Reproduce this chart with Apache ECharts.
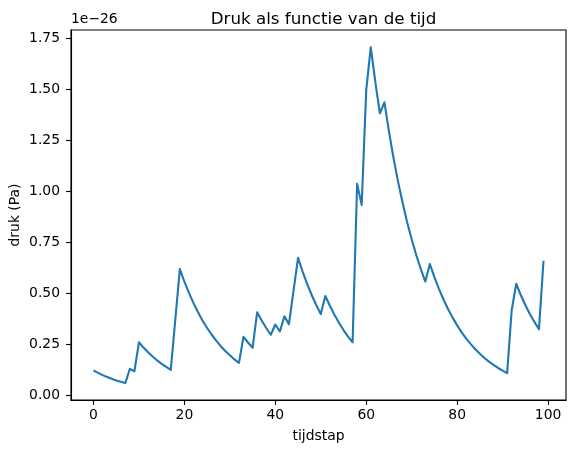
<!DOCTYPE html>
<html>
<head>
<meta charset="utf-8">
<script src="https://cdn.jsdelivr.net/npm/echarts@6/dist/echarts.min.js"></script>
<style>html,body{margin:0;padding:0;background:#fff}#c{width:576px;height:453px}</style>
</head>
<body>
<div id="c"></div>
<script>
// Druk (Pa), in eenheden van 1e-26, per tijdstap 0..99
var druk = [
  0.120, 0.108, 0.097, 0.088, 0.079, 0.071, 0.064, 0.058, 0.128, 0.116,
  0.258, 0.232, 0.209, 0.188, 0.169, 0.152, 0.137, 0.123, 0.370, 0.617,
  0.555, 0.500, 0.450, 0.405, 0.364, 0.328, 0.295, 0.266, 0.239, 0.215,
  0.194, 0.174, 0.157, 0.285, 0.257, 0.231, 0.405, 0.365, 0.328, 0.295,
  0.345, 0.311, 0.385, 0.347, 0.510, 0.672, 0.605, 0.544, 0.490, 0.441,
  0.397, 0.485, 0.437, 0.393, 0.354, 0.318, 0.286, 0.258, 1.035, 0.932,
  1.495, 1.705, 1.535, 1.381, 1.435, 1.292, 1.162, 1.046, 0.942, 0.847,
  0.763, 0.686, 0.618, 0.556, 0.642, 0.578, 0.520, 0.468, 0.421, 0.379,
  0.341, 0.307, 0.276, 0.249, 0.224, 0.202, 0.181, 0.163, 0.147, 0.132,
  0.119, 0.107, 0.415, 0.545, 0.490, 0.441, 0.397, 0.358, 0.322, 0.658
];
var xTicks = [0, 20, 40, 60, 80, 100];
var yTicks = [0, 0.25, 0.5, 0.75, 1.0, 1.25, 1.5, 1.75];
var titleText = 'Druk als functie van de tijd';
var xLabel = 'tijdstap';
var yLabel = 'druk (Pa)';
var offsetText = '1e\u221226';

var points = druk.map(function (v, i) { return [i, v]; });
var font = 'DejaVu Sans';
var axisLineStyle = { color: '#000', width: 1.1 };

var chart = echarts.init(document.getElementById('c'), null, { renderer: 'canvas' });
chart.setOption({
  animation: false,
  backgroundColor: '#fff',
  title: {
    text: titleText, left: 318.5, top: 6, textAlign: 'center',
    textStyle: { fontFamily: font, fontSize: 16.7, fontWeight: 'normal', color: '#000' }
  },
  graphic: [{
    type: 'text', left: 71, top: 12,
    style: { text: offsetText, fontFamily: font, fontSize: 13.9, fill: '#000' }
  }, {
    type: 'rect', shape: { x: 71, y: 30, width: 495, height: 370 },
    style: { fill: 'none', stroke: '#000', lineWidth: 1.1 }, z: 10, silent: true
  }],
  grid: { left: 71, right: 10, top: 30, bottom: 53, containLabel: false, outerBoundsMode: 'none', show: false },
  xAxis: {
    type: 'value', min: -4.95, max: 103.95,
    name: xLabel, nameLocation: 'middle', nameGap: 29, nameMoveOverlap: false,
    nameTextStyle: { fontFamily: font, fontSize: 13.9, color: '#000' },
    axisLine: { show: true, onZero: false, lineStyle: axisLineStyle },
    axisTick: { show: true, length: 4.9, inside: false, customValues: xTicks, lineStyle: axisLineStyle },
    axisLabel: { customValues: xTicks, margin: 8, fontFamily: font, fontSize: 13.9, color: '#000' },
    splitLine: { show: false }
  },
  yAxis: {
    type: 'value', min: -0.025, max: 1.7895,
    name: yLabel, nameLocation: 'middle', nameGap: 49, nameRotate: 90, nameMoveOverlap: false,
    nameTextStyle: { fontFamily: font, fontSize: 13.9, color: '#000' },
    axisLine: { show: true, onZero: false, lineStyle: axisLineStyle },
    axisTick: { show: true, length: 4.9, inside: false, customValues: yTicks, lineStyle: axisLineStyle },
    axisLabel: { customValues: yTicks, margin: 11, fontFamily: font, fontSize: 13.9, color: '#000',
      formatter: function (v) { return v.toFixed(2); } },
    splitLine: { show: false }
  },
  series: [{
    type: 'line', data: points, showSymbol: false, symbol: 'none',
    lineStyle: { color: '#1f77b4', width: 2.1, join: 'round', cap: 'butt' },
    clip: true
  }]
});
</script>
</body>
</html>
